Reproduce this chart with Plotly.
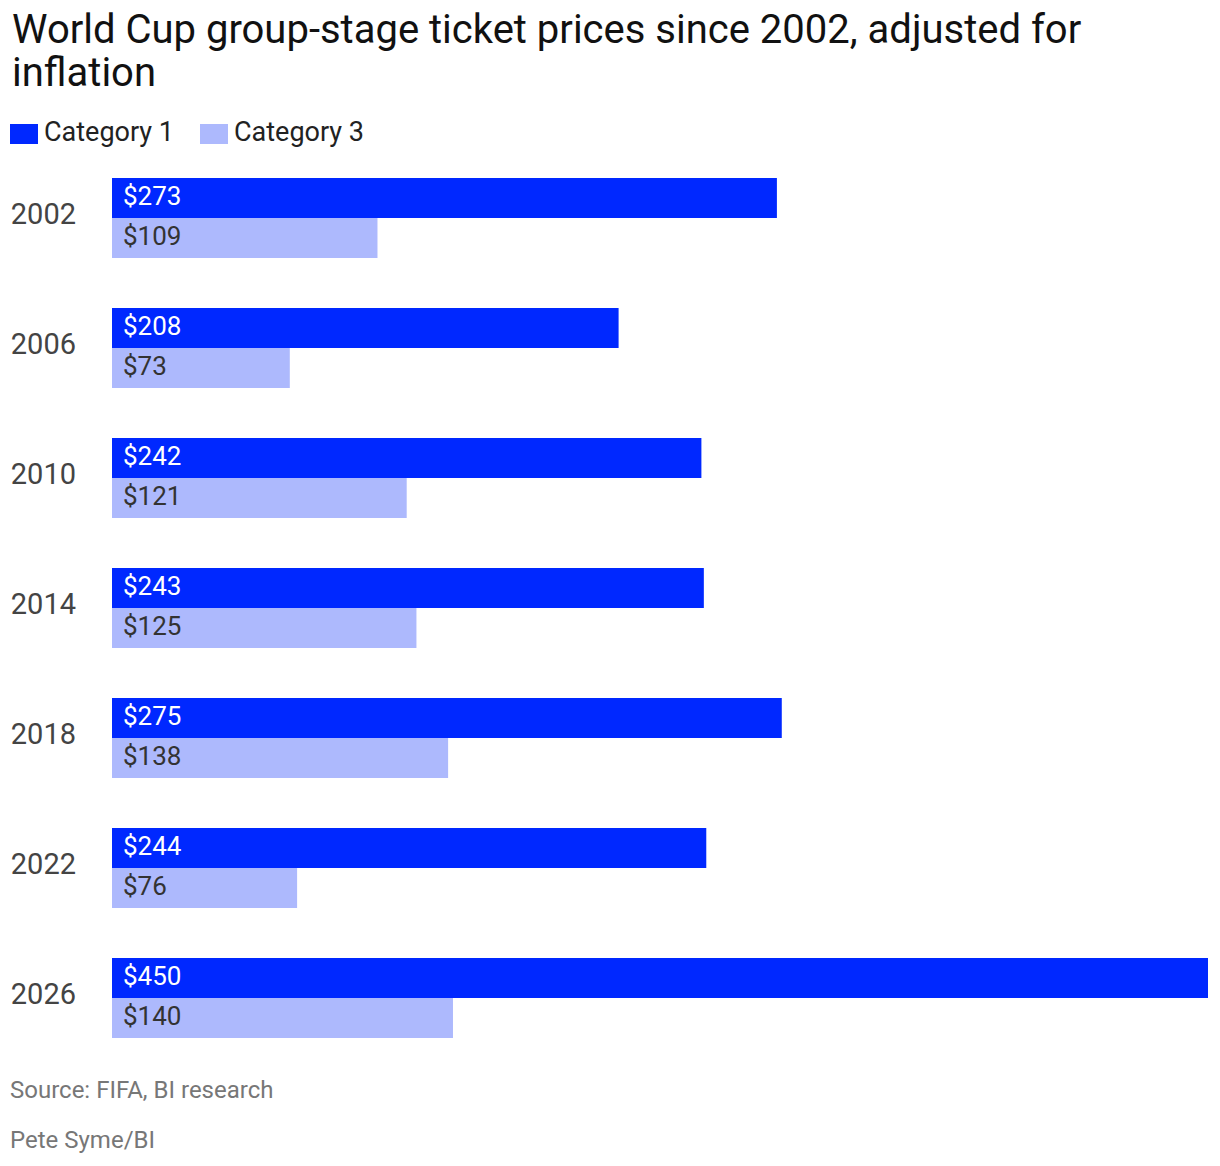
import plotly.graph_objects as go

years = ["2002", "2006", "2010", "2014", "2018", "2022", "2026"]
cat1 = [273, 208, 242, 243, 275, 244, 450]
cat3 = [109, 73, 121, 125, 138, 76, 140]
series_names = ["Category 1", "Category 3"]
title_lines = ["World Cup group-stage ticket prices since 2002, adjusted for", "inflation"]
source_text = "Source: FIFA, BI research"
credit_text = "Pete Syme/BI"

C1 = "#0028FF"
C3 = "#ADB9FD"
FONT = "Roboto"

W, H = 1220, 1166
L, R, T, B = 112, 12, 153, 103
PW, PH = W - L - R, H - T - B

def px(x):
    return (x - L) / PW

def py(y):
    return (H - B - y) / PH

idx = list(range(len(years)))

fig = go.Figure()
fig.add_trace(go.Bar(y=idx, x=cat1, orientation="h", name=series_names[0],
                     marker=dict(color=C1, line=dict(width=0)),
                     customdata=years, hovertemplate="%{customdata}: $%{x}<extra>Category 1</extra>"))
fig.add_trace(go.Bar(y=idx, x=cat3, orientation="h", name=series_names[1],
                     marker=dict(color=C3, line=dict(width=0)),
                     customdata=years, hovertemplate="%{customdata}: $%{x}<extra>Category 3</extra>"))

ann = []
for i, v1, v3 in zip(idx, cat1, cat3):
    ann.append(dict(x=0, y=i, xref="x", yref="y", text=f"${v1}", showarrow=False,
                    xanchor="left", yanchor="middle", xshift=9, yshift=22,
                    font=dict(family=FONT, size=26, color="#FFFFFF")))
    ann.append(dict(x=0, y=i, xref="x", yref="y", text=f"${v3}", showarrow=False,
                    xanchor="left", yanchor="middle", xshift=9, yshift=-18,
                    font=dict(family=FONT, size=26, color="#333333")))

# title (two lines, tight leading)
for k, line in enumerate(title_lines):
    ann.append(dict(x=px(10), y=py(29 + 43 * k), xref="paper", yref="paper", text=line,
                    showarrow=False, xanchor="left", yanchor="middle", align="left",
                    font=dict(family=FONT, size=40, color="#111111")))
# legend
shapes = []
leg = [(10, series_names[0], C1), (200, series_names[1], C3)]
for x0, name, col in leg:
    shapes.append(dict(type="rect", xref="paper", yref="paper",
                       x0=px(x0), x1=px(x0 + 28), y0=py(144), y1=py(124),
                       fillcolor=col, line=dict(width=0)))
    ann.append(dict(x=px(x0 + 32), y=py(132), xref="paper", yref="paper", text=name,
                    showarrow=False, xanchor="left", yanchor="middle",
                    font=dict(family=FONT, size=27, color="#222222")))
# footer
ann.append(dict(x=px(8), y=py(1090), xref="paper", yref="paper", text=source_text,
                showarrow=False, xanchor="left", yanchor="middle",
                font=dict(family=FONT, size=24, color="#777777")))
ann.append(dict(x=px(8), y=py(1140), xref="paper", yref="paper", text=credit_text,
                showarrow=False, xanchor="left", yanchor="middle",
                font=dict(family=FONT, size=24, color="#777777")))

fig.update_layout(
    width=W, height=H,
    margin=dict(l=L, r=R, t=T, b=B, pad=0, autoexpand=False),
    paper_bgcolor="white", plot_bgcolor="white",
    barmode="group", bargap=50 / 130, bargroupgap=0,
    showlegend=False,
    annotations=ann, shapes=shapes,
    xaxis=dict(range=[0, 450], visible=False, fixedrange=True),
    yaxis=dict(range=[len(years) - 0.5, -0.5], type="linear", showgrid=False, zeroline=False,
               showline=False, ticks="", ticklabelstandoff=35, ticklabelshift=4,
               tickmode="array", tickvals=idx, ticktext=years, fixedrange=True,
               tickfont=dict(family=FONT, size=29, color="#444444")),
    font=dict(family=FONT),
)

fig.write_html("out.html")
